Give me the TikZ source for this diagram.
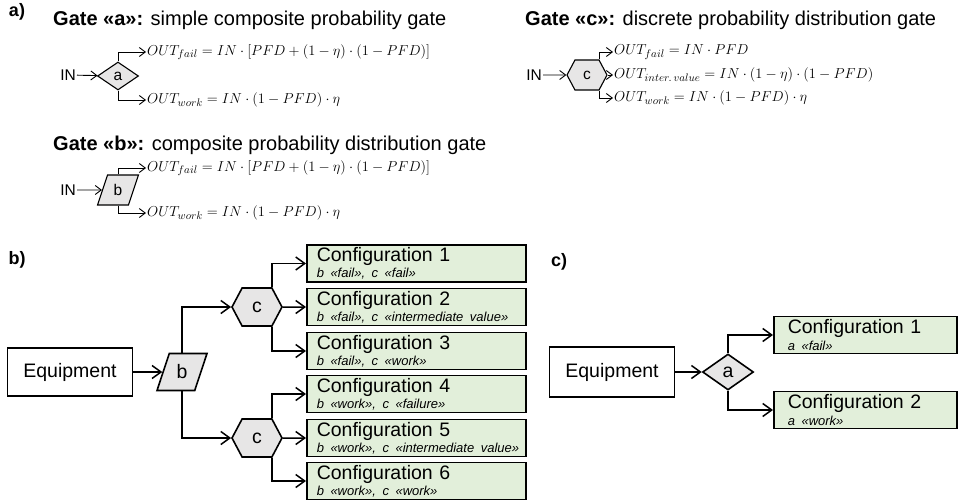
\documentclass[tikz,border=0pt]{standalone}
\usepackage{fontspec}
\setmainfont{Liberation Sans}
\usetikzlibrary{positioning,arrows.meta,shapes.geometric,shapes.symbols}
\definecolor{cfggreen}{HTML}{E2EFDA}
\definecolor{gategray}{HTML}{E7E6E6}
\newcommand\titlefs{\fontsize{20}{24}\selectfont}
\newcommand\cfgfs{\fontsize{19.5}{23.4}\selectfont}
\newcommand\subfs{\fontsize{13}{15.6}\selectfont}
\newcommand\labfs{\fontsize{18}{21}\selectfont}
\newcommand\insfs{\fontsize{15.5}{18}\selectfont}
\newcommand\eqfs{\fontsize{15.5}{18.6}\selectfont}
\newcommand\cfgsub[1]{\mbox{\subfs\itshape #1}}
\begin{document}
\begin{tikzpicture}[x=1pt,y=-1pt,
  wire/.style={line width=1.5pt,-{Straight Barb[length=9pt,width=13pt]}},
  wiresm/.style={line width=0.9pt,-{Straight Barb[length=6pt,width=9pt]}},
  gatebox/.style={draw,line width=1.6pt,fill=gategray,inner sep=0pt,font=\cfgfs},
  gatesm/.style={draw,line width=1.1pt,fill=gategray,inner sep=0pt,font=\insfs},
  diam/.style={diamond,aspect=1.4},
  para/.style={trapezium,trapezium left angle=70,trapezium right angle=110,trapezium stretches=true},
  hexa/.style={signal,signal to=west and east,signal from=nowhere,signal pointer angle=124},
  config/.style={draw,line width=1.6pt,fill=cfggreen,align=left,anchor=west,minimum height=37pt,inner ysep=0pt,inner xsep=10pt,text width=199pt,font=\cfgfs},
  configc/.style={config,inner xsep=14pt,text width=155pt},
  equip/.style={draw,line width=1.3pt,minimum width=125pt,minimum height=48pt,font=\cfgfs},
  formula/.style={anchor=west,inner sep=1pt,font=\eqfs},
  inlabel/.style={anchor=east,inner sep=1pt,font=\insfs},
  title/.style={anchor=west,inner sep=0pt,font=\titlefs},
  panel/.style={font=\labfs\bfseries}
]
\useasboundingbox (0,0) rectangle (958,503);

% a) gate definitions
\node[panel] (pa) at (17,12) {a)};
\node[title] (ta) at (53,20) {\textbf{Gate «a»:} simple composite probability gate};
\node[gatesm,diam,minimum width=41pt,minimum height=28pt] (ga) at (118,76) {a};
\node[inlabel] (ina) at (77,75) {IN};
\node[formula] (fa1) at (146,52) {$OUT_{fail}=IN\cdot[PFD+(1-\eta)\cdot(1-PFD)]$};
\node[formula] (fa2) at (146,100) {$OUT_{work}=IN\cdot(1-PFD)\cdot\eta$};
\draw[wiresm] (ina) -- (ga);
\draw[wiresm] (ga.north) |- (fa1);
\draw[wiresm] (ga.south) |- (fa2);

\node[title] (tb) at (53,145) {\textbf{Gate «b»:} composite probability distribution gate};
\node[gatesm,para,minimum width=41pt,minimum height=30pt] (gbs) at (118,190) {b};
\node[inlabel] (inb) at (77,190) {IN};
\node[formula] (fb1) at (146,168) {$OUT_{fail}=IN\cdot[PFD+(1-\eta)\cdot(1-PFD)]$};
\node[formula] (fb2) at (146,213) {$OUT_{work}=IN\cdot(1-PFD)\cdot\eta$};
\draw[wiresm] (inb) -- (gbs);
\draw[wiresm] (gbs.north) |- (fb1);
\draw[wiresm] (gbs.south) |- (fb2);

\node[title] (tc) at (525,20) {\textbf{Gate «c»:} discrete probability distribution gate};
\node[gatesm,hexa,minimum width=40pt,minimum height=30pt] (gcs) at (587,75) {c};
\node[inlabel] (inc) at (543,75) {IN};
\node[formula] (fc1) at (613,52) {$OUT_{fail}=IN\cdot PFD$};
\node[formula] (fc2) at (613,75) {$OUT_{inter.\,value}=IN\cdot(1-\eta)\cdot(1-PFD)$};
\node[formula] (fc3) at (613,98) {$OUT_{work}=IN\cdot(1-PFD)\cdot\eta$};
\draw[wiresm] (inc) -- (gcs);
\draw[wiresm] ([xshift=12pt]gcs.north) |- (fc1);
\draw[wiresm] (gcs) -- (fc2);
\draw[wiresm] ([xshift=12pt]gcs.south) |- (fc3);

% b) equipment through gates b and c
\node[panel] (pb) at (17,260) {b)};
\node[equip] (eqb) at (70,372) {Equipment};
\node[gatebox,para,minimum width=50pt,minimum height=37pt] (gb) at (182,372) {b};
\node[gatebox,hexa,minimum width=50pt,minimum height=38pt] (gc1) at (257,307) {c};
\node[gatebox,hexa,minimum width=50pt,minimum height=38pt] (gc2) at (257,438) {c};
\node[config] (cf1) at (306,263.5) {Configuration 1\\[-7pt]\cfgsub{b «fail», c «fail»}};
\node[config] (cf2) at (306,307) {Configuration 2\\[-7pt]\cfgsub{b «fail», c «intermediate value»}};
\node[config] (cf3) at (306,351) {Configuration 3\\[-7pt]\cfgsub{b «fail», c «work»}};
\node[config] (cf4) at (306,394) {Configuration 4\\[-7pt]\cfgsub{b «work», c «failure»}};
\node[config] (cf5) at (306,438) {Configuration 5\\[-7pt]\cfgsub{b «work», c «intermediate value»}};
\node[config] (cf6) at (306,481) {Configuration 6\\[-7pt]\cfgsub{b «work», c «work»}};
\draw[wire] (eqb) -- (gb);
\draw[wire] (gb.north) |- (gc1);
\draw[wire] (gb.south) |- (gc2);
\draw[wire] ([xshift=15pt]gc1.north) |- (cf1);
\draw[wire] (gc1) -- (cf2);
\draw[wire] ([xshift=15pt]gc1.south) |- (cf3);
\draw[wire] ([xshift=15pt]gc2.north) |- (cf4);
\draw[wire] (gc2) -- (cf5);
\draw[wire] ([xshift=15pt]gc2.south) |- (cf6);

% c) equipment through gate a
\node[panel] (pc) at (559,262) {c)};
\node[equip,minimum height=50pt] (eqc) at (612,372) {Equipment};
\node[gatebox,diam,minimum width=51pt,minimum height=36pt] (gac) at (728,372) {a};
\node[configc] (cc1) at (773,335) {Configuration 1\\[-7pt]\cfgsub{a «fail»}};
\node[configc] (cc2) at (773,410) {Configuration 2\\[-7pt]\cfgsub{a «work»}};
\draw[wire] (eqc) -- (gac);
\draw[wire] (gac.north) |- (cc1);
\draw[wire] (gac.south) |- (cc2);
\end{tikzpicture}
\end{document}
